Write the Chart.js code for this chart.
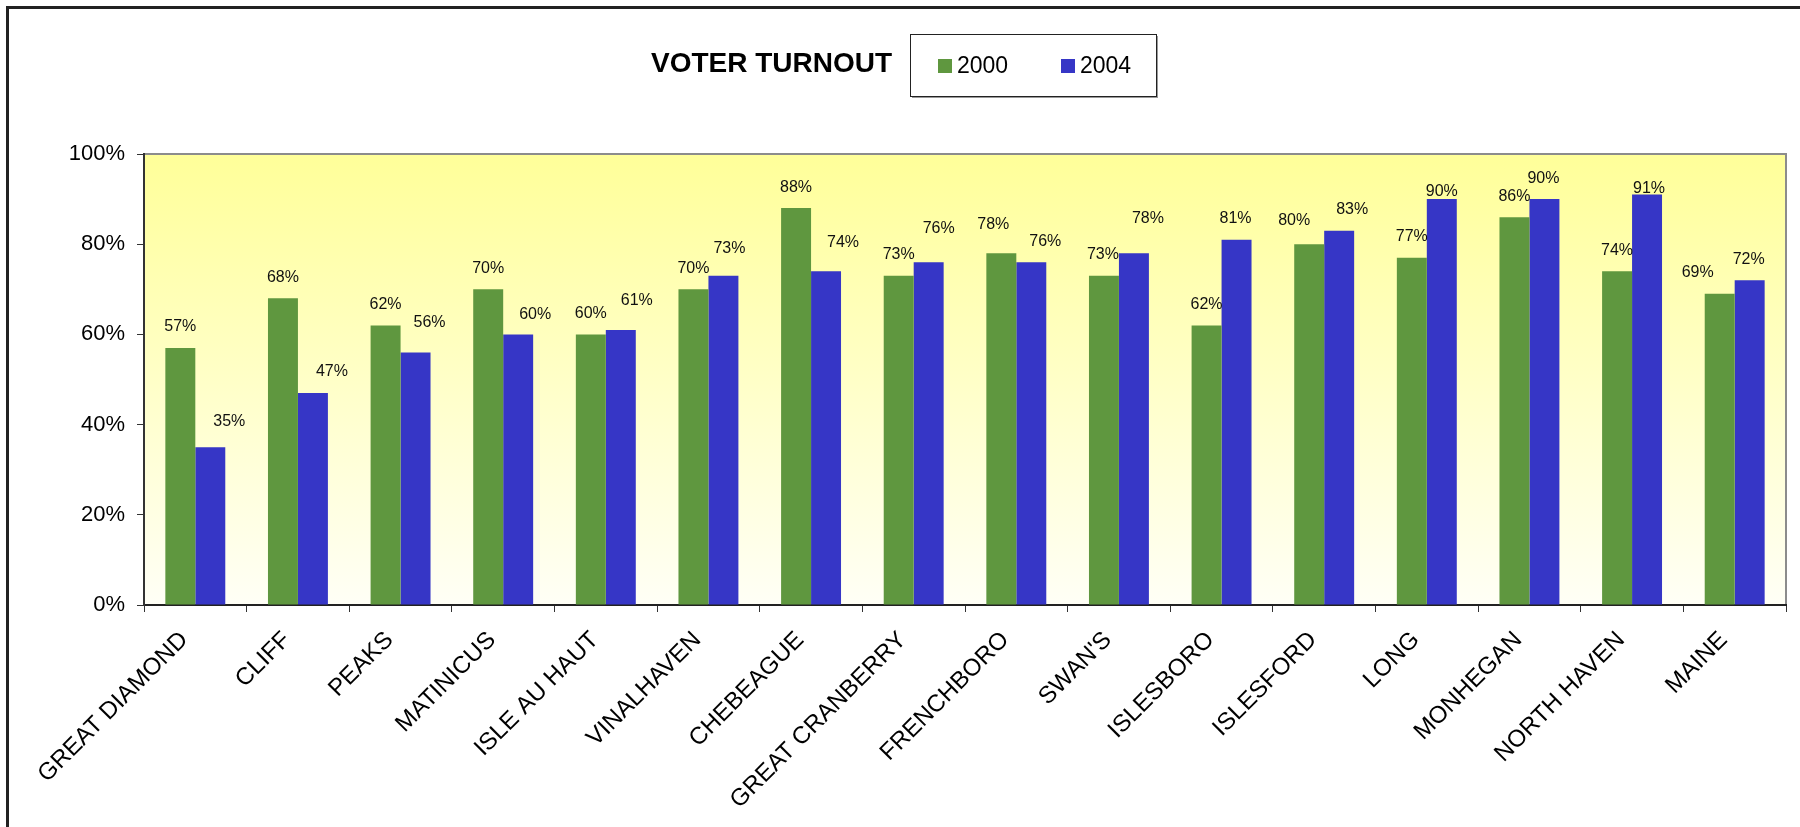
<!DOCTYPE html>
<html>
<head>
<meta charset="utf-8">
<title>Voter Turnout</title>
<script src="https://cdn.jsdelivr.net/npm/chart.js@4.4.1/dist/chart.umd.min.js"></script>
<style>
  html, body { margin: 0; padding: 0; background: #fff; }
  #wrap { position: relative; width: 1800px; height: 827px; overflow: hidden; }
  #frame {
    position: absolute; left: 6px; top: 6px; width: 1900px; height: 900px;
    border-left: 3px solid #222; border-top: 3px solid #222;
  }
  #turnout { position: absolute; left: 0; top: 0; }
</style>
</head>
<body>
<div id="wrap">
  <div id="frame"></div>
  <canvas id="turnout" width="1800" height="827"></canvas>
</div>
<script>
const islands = [
  "GREAT DIAMOND", "CLIFF", "PEAKS", "MATINICUS", "ISLE AU HAUT", "VINALHAVEN",
  "CHEBEAGUE", "GREAT CRANBERRY", "FRENCHBORO", "SWAN'S", "ISLESBORO",
  "ISLESFORD", "LONG", "MONHEGAN", "NORTH HAVEN", "MAINE"
];
const turnout2000 = [57, 68, 62, 70, 60, 70, 88, 73, 78, 73, 62, 80, 77, 86, 74, 69];
const turnout2004 = [35, 47, 56, 60, 61, 73, 74, 76, 76, 78, 81, 83, 90, 90, 91, 72];
const yearLabels = ["2000", "2004"];
const yTickStep = 20;
const yMax = 100;

// hand-placed label nudges [dx, dy] in px, relative to the default spot above each bar
const nudge2000 = [[0,0],[0,0],[0,0],[0,0],[0,0],[0,0],[0,0],[0,0],[-8,-8],[-1,0],[0,0],[-15,-3],[0,0],[0,0],[0,0],[-22,0]];
const nudge2004 = [[19,-5],[19,0],[14,-9],[17,1],[16,-8],[6,-6],[17,-8],[10,-13],[14,0],[14,-14],[-1,0],[13,0],[0,13],[-1,0],[2,15],[-1,0]];

const FONT = "'Liberation Sans', Arial, sans-serif";
const GREEN = "#5f973f";
const BLUE = "#3636c6";

// yellow-to-ivory fill behind the bars plus the grey frame of the plot
const plotBackdrop = {
  id: "plotBackdrop",
  beforeDraw(chart) {
    const { ctx, chartArea: a } = chart;
    const g = ctx.createLinearGradient(0, a.top, 0, a.bottom);
    g.addColorStop(0, "#ffff99");
    g.addColorStop(1, "#fffff6");
    ctx.save();
    ctx.fillStyle = g;
    ctx.fillRect(a.left, a.top, a.right - a.left, a.bottom - a.top);
    ctx.strokeStyle = "#8c8c8c";
    ctx.lineWidth = 2;
    ctx.strokeRect(a.left, a.top, a.right - a.left, a.bottom - a.top);
    ctx.restore();
  }
};

// percentage labels over every bar
const barValues = {
  id: "barValues",
  afterDatasetsDraw(chart) {
    const { ctx } = chart;
    const nudges = [nudge2000, nudge2004];
    ctx.save();
    ctx.font = "16px " + FONT;
    ctx.fillStyle = "#111";
    ctx.textAlign = "center";
    ctx.textBaseline = "middle";
    chart.data.datasets.forEach((ds, di) => {
      chart.getDatasetMeta(di).data.forEach((bar, i) => {
        const [dx, dy] = nudges[di][i];
        ctx.fillText(ds.data[i] + "%", bar.x + dx, bar.y - 21 + dy);
      });
    });
    ctx.restore();
  }
};

// title and boxed legend sitting side by side above the plot
const header = {
  id: "header",
  afterDraw(chart) {
    const { ctx } = chart;
    ctx.save();
    ctx.fillStyle = "#000";
    ctx.textBaseline = "alphabetic";
    ctx.textAlign = "left";
    ctx.font = "bold 28px " + FONT;
    ctx.fillText("VOTER TURNOUT", 651, 72);

    const bx = 910, by = 34, bw = 246, bh = 62;
    ctx.fillStyle = "#fff";
    ctx.fillRect(bx, by, bw, bh);
    ctx.strokeStyle = "#999";
    ctx.lineWidth = 2;
    ctx.beginPath();
    ctx.moveTo(bx + bw + 1, by + 2);
    ctx.lineTo(bx + bw + 1, by + bh + 1);
    ctx.lineTo(bx + 2, by + bh + 1);
    ctx.stroke();
    ctx.strokeStyle = "#222";
    ctx.lineWidth = 1;
    ctx.strokeRect(bx + 0.5, by + 0.5, bw, bh);

    ctx.font = "23px " + FONT;
    const itemX = [938, 1061];
    chart.data.datasets.forEach((ds, i) => {
      ctx.fillStyle = ds.backgroundColor;
      ctx.fillRect(itemX[i], 59, 14, 14);
      ctx.fillStyle = "#000";
      ctx.fillText(ds.label, itemX[i] + 19, 73);
    });
    ctx.restore();
  }
};

new Chart(document.getElementById("turnout"), {
  type: "bar",
  data: {
    labels: islands,
    datasets: [
      { label: yearLabels[0], data: turnout2000, backgroundColor: GREEN },
      { label: yearLabels[1], data: turnout2004, backgroundColor: BLUE }
    ]
  },
  options: {
    responsive: false,
    animation: false,
    layout: { padding: { left: 0, right: 14, top: 154, bottom: 0 } },
    datasets: { bar: { categoryPercentage: 0.584, barPercentage: 1.0 } },
    plugins: {
      legend: { display: false },
      title: { display: false },
      tooltip: { enabled: false }
    },
    scales: {
      x: {
        grid: { drawOnChartArea: false, tickLength: 7, color: "#333", offset: true },
        border: { color: "#222", width: 2 },
        ticks: {
          minRotation: 45, maxRotation: 45, autoSkip: false,
          color: "#000", padding: 14, labelOffset: -11,
          font: { family: FONT, size: 24 }
        },
        afterFit(scale) {
          scale.height = 222;
          scale.paddingLeft = 0;
          scale.paddingRight = 0;
        }
      },
      y: {
        min: 0, max: yMax,
        grid: { drawOnChartArea: false, tickLength: 7, color: "#333" },
        border: { color: "#333", width: 2 },
        ticks: {
          stepSize: yTickStep, color: "#000", padding: 12,
          font: { family: FONT, size: 22 },
          callback: (v) => v + "%"
        },
        afterFit(scale) {
          scale.width = 144;
          scale.paddingTop = 0;
          scale.paddingBottom = 0;
        }
      }
    }
  },
  plugins: [plotBackdrop, barValues, header]
});
</script>
</body>
</html>
